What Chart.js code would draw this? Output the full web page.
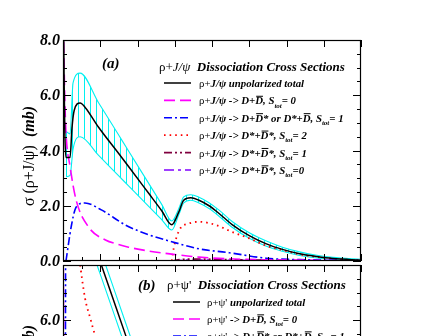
<!DOCTYPE html>
<html lang="en">
<head>
<meta charset="UTF-8" />
<title>Dissociation cross sections</title>
<script src="https://cdn.jsdelivr.net/npm/chart.js"></script>
<style>
  html, body { margin: 0; padding: 0; background: #fff; overflow: hidden; }
  .panel { position: absolute; left: 0; width: 425px; }
  #top { top: 0; height: 275px; }
  #bot { top: 263px; height: 240px; }
</style>
</head>
<body>
<div class="panel" id="top"><canvas id="chartA"></canvas></div>
<div class="panel" id="bot"><canvas id="chartB"></canvas></div>
<script>
// ---- panel (a): rho + J/psi ----
const totalX = [0.01, 0.03, 0.05, 0.08, 0.19, 0.24, 0.30, 0.46, 0.60, 0.95, 1.49, 1.76, 2.30, 2.65, 2.92, 3.11, 3.24, 3.43, 3.65, 3.92, 4.19, 4.54, 5.00, 5.46, 5.89, 6.35, 6.81, 7.24, 8.00];
const totalY = [9.5, 6.5, 4.6, 3.75, 3.75, 4.8, 5.45, 5.72, 5.55, 4.85, 3.9, 3.42, 2.45, 1.82, 1.31, 1.78, 2.2, 2.29, 2.2, 2.0, 1.72, 1.32, 0.92, 0.62, 0.42, 0.26, 0.16, 0.09, 0.03];
const bandX = [0.08, 0.19, 0.27, 0.46, 0.95, 1.49, 1.76, 2.30, 2.65, 2.92, 3.11, 3.24, 3.43, 3.65, 3.92, 4.19, 4.54, 5.00, 5.46, 5.89, 6.35, 6.81, 7.24, 8.00];
const bandHi = [4.7, 4.6, 6.45, 6.8, 5.74, 4.57, 3.98, 2.81, 2.05, 1.45, 1.9, 2.32, 2.4, 2.31, 2.11, 1.84, 1.43, 1.02, 0.72, 0.5, 0.33, 0.21, 0.13, 0.06];
const bandLo = [3.05, 3.1, 4.05, 4.5, 3.83, 3.09, 2.72, 1.98, 1.5, 1.12, 1.68, 2.1, 2.2, 2.1, 1.9, 1.62, 1.22, 0.82, 0.53, 0.35, 0.2, 0.11, 0.05, 0.01];
const ddX = [0.01, 0.05, 0.08, 0.19, 0.35, 0.68, 1.14, 1.49, 1.76, 2.30, 2.92, 3.65, 4.9, 6.5, 8.0];
const ddY = [8.5, 5.8, 4.65, 3.42, 2.22, 1.24, 0.76, 0.6, 0.5, 0.36, 0.25, 0.14, 0.06, 0.03, 0.01];
const ddsX = [0.08, 0.22, 0.32, 0.41, 0.59, 1.03, 1.68, 2.30, 2.92, 3.65, 4.46, 5.46, 6.35, 8.0];
const ddsY = [0, 1.24, 1.85, 2.04, 2.1, 1.85, 1.3, 0.95, 0.7, 0.44, 0.3, 0.1, 0.05, 0.02];
const s2X = [2.92, 2.97, 3.05, 3.16, 3.38, 3.65, 4.11, 4.54, 5.0, 5.46, 5.89, 6.35, 6.81, 7.24, 8.0];
const s2Y = [0, 0.45, 0.87, 1.2, 1.36, 1.42, 1.3, 1.05, 0.82, 0.55, 0.4, 0.24, 0.15, 0.08, 0.02];
const s1X = [2.92, 3.2, 3.65, 4.5, 5.5, 6.5, 8.0];
const s1Y = [0, 0.06, 0.07, 0.05, 0.03, 0.01, 0];
const s0X = [2.92, 3.2, 3.65, 4.5, 5.5, 6.5, 8.0];
const s0Y = [0, 0.03, 0.04, 0.03, 0.02, 0.01, 0];

// ---- panel (b): rho + psi' (only the top part is in view) ----
const psiTotX = [0.9, 1.03, 1.68, 2.0];
const psiTotY = [8.5, 8.0, 5.45, 4.2];
const psiHi = [8.95, 8.45, 5.9, 4.65];
const psiLo = [8.05, 7.55, 5.0, 3.75];
const psiRedX = [0.40, 0.46, 0.59, 0.73, 0.86, 1.0];
const psiRedY = [8.6, 8.0, 6.8, 6.07, 5.45, 4.9];
const psiBlueX = [0.065, 0.07];
const psiBlueY = [4.5, 9.0];
const psiDdX = [0.005, 0.02];
const psiDdY = [9.0, 4.5];

const yTicksA = [0, 2, 4, 6, 8];
const yTicksB = [0, 2, 4, 6];

const serif = '"Liberation Serif", "Times New Roman", serif';
const CYAN = "#00f0f0";

const pts = (xs, ys) => xs.map((x, i) => ({ x: x, y: ys[i] }));

function hatch() {
  const c = document.createElement("canvas");
  c.width = 6; c.height = 6;
  const g = c.getContext("2d");
  g.fillStyle = CYAN;
  g.fillRect(0, 0, 1, 6);
  return g.createPattern(c, "repeat");
}

function font(k, size) {
  if (k === "r") return size + "px " + serif;
  if (k === "i") return "italic " + size + "px " + serif;
  return "italic bold " + size + "px " + serif;
}

// segments: r regular, i italic, b bold italic, o overlined, s subscript
function drawRich(ctx, segs, x, y, size, measureOnly) {
  let cx = x;
  segs.forEach(([k, t]) => {
    const sub = k === "s";
    const sz = sub ? Math.round(size * 0.68) : size;
    ctx.font = font(k === "o" || sub ? "b" : k, sz);
    const w = ctx.measureText(t).width;
    if (!measureOnly) {
      ctx.fillText(t, cx, sub ? y + size * 0.3 : y);
      if (k === "o") ctx.fillRect(cx + 1, y - size * 0.8, w - 1, 1);
    }
    cx += w;
  });
  return cx - x;
}

const framePlugin = {
  id: "frame",
  afterDraw(chart, args, o) {
    const ctx = chart.ctx;
    const a = chart.chartArea;
    const xs = chart.scales.x, ys = chart.scales.y;
    ctx.save();
    ctx.strokeStyle = "#000";
    ctx.fillStyle = "#000";
    ctx.lineWidth = 1.2;
    ctx.strokeRect(a.left + 0.5, a.top + 0.5, a.right - a.left - 1, a.bottom - a.top - 1);

    ctx.lineWidth = 1;
    ctx.beginPath();
    for (let v = 0; v <= 8.001; v += 0.5) {
      const px = Math.round(xs.getPixelForValue(v)) + 0.5;
      const major = Math.abs(v - Math.round(v)) < 0.01;
      const len = major ? 7 : 4;
      if (major || o.topMinor) { ctx.moveTo(px, a.top); ctx.lineTo(px, a.top + len); }
      ctx.moveTo(px, a.bottom); ctx.lineTo(px, a.bottom - len);
    }
    for (let v = 0; v <= 8.001; v += 0.5) {
      const py = Math.round(ys.getPixelForValue(v)) + 0.5;
      const len = v % 2 === 0 ? 8 : 4;
      ctx.moveTo(a.left, py); ctx.lineTo(a.left + len, py);
      ctx.moveTo(a.right, py); ctx.lineTo(a.right - len, py);
    }
    ctx.stroke();

    // y tick labels
    ctx.font = font("b", 16);
    ctx.textAlign = "right";
    ctx.textBaseline = "middle";
    o.yTicks.forEach(v => ctx.fillText(v.toFixed(1), a.left - 3, ys.getPixelForValue(v) + 1));

    // y title (rotated)
    ctx.textAlign = "left";
    ctx.textBaseline = "alphabetic";
    const tw = drawRich(ctx, o.yTitle, 0, 0, 16, true);
    ctx.save();
    ctx.translate(o.yTitlePos[0], o.yTitlePos[1] + tw);
    ctx.rotate(-Math.PI / 2);
    drawRich(ctx, o.yTitle, 0, 0, 16);
    ctx.restore();

    // panel tag
    drawRich(ctx, [["b", o.tag[0]]], o.tag[1], o.tag[2], 15);

    // legend
    const L = o.legend;
    drawRich(ctx, L.title, L.titleX, L.titleY, 13);
    L.rows.forEach((r, i) => {
      const y = L.rowY + i * L.step;
      const ds = chart.data.datasets[r.ds];
      ctx.save();
      ctx.strokeStyle = ds.borderColor;
      ctx.lineWidth = ds.borderWidth;
      ctx.setLineDash(ds.borderDash || []);
      ctx.beginPath();
      ctx.moveTo(L.lineX, y); ctx.lineTo(L.lineX + 27, y);
      ctx.stroke();
      ctx.restore();
      drawRich(ctx, r.segs, L.textX, y + 4, 10.8);
    });
    ctx.restore();
  }
};

const line = (data, color, dash, width, order) => ({
  data: data, borderColor: color, borderDash: dash, borderWidth: width || 1.6,
  pointRadius: 0, fill: false, cubicInterpolationMode: "monotone", order: order || 1
});

function makeChart(id, datasets, padding, frame) {
  return new Chart(document.getElementById(id), {
    type: "line",
    data: { datasets: datasets },
    options: {
      responsive: true,
      maintainAspectRatio: false,
      animation: false,
      events: [],
      layout: { padding: padding },
      scales: {
        x: { type: "linear", min: 0, max: 8, display: false },
        y: { min: 0, max: 8, display: false }
      },
      plugins: { legend: { display: false }, tooltip: { enabled: false }, frame: frame }
    },
    plugins: [framePlugin]
  });
}

const rhoJ = [["r", "ρ+"], ["b", "J/ψ"]];
const rhoP = [["r", "ρ+ψ'"]];

makeChart("chartA", [
  line(pts(totalX, totalY), "#000", [], 1.5, 0),
  line(pts(ddX, ddY), "#ff00ff", [11, 5], 1.6, 1),
  line(pts(ddsX, ddsY), "#0000ff", [8, 3, 2, 3], 1.6, 1),
  line(pts(s2X, s2Y), "#ff0000", [1.6, 4], 1.8, 1),
  line(pts(s1X, s1Y), "#80003f", [8, 3, 2, 3, 2, 3], 1.6, 1),
  line(pts(s0X, s0Y), "#8000ff", [10, 4, 3, 4], 1.4, 1),
  Object.assign(line(pts(bandX, bandHi), CYAN, [], 1.1, 5), { fill: "+1", backgroundColor: hatch() }),
  line(pts(bandX, bandLo), CYAN, [], 1.1, 5)
], { left: 63, right: 64, top: 40, bottom: 14 }, {
  yTicks: yTicksA,
  topMinor: false,
  yTitle: [["r", "σ (ρ+J/ψ)  "], ["b", "(mb)"]],
  yTitlePos: [34, 106],
  tag: ["(a)", 102, 68],
  legend: {
    title: [["r", "ρ+"], ["i", "J/ψ"], ["b", "  Dissociation Cross Sections"]],
    titleX: 159, titleY: 71,
    lineX: 164, textX: 199, rowY: 83, step: 17.4,
    rows: [
      { ds: 0, segs: rhoJ.concat([["b", " unpolarized total"]]) },
      { ds: 1, segs: rhoJ.concat([["b", " -> D+"], ["o", "D"], ["b", ", S"], ["s", "tot"], ["b", "= 0"]]) },
      { ds: 2, segs: rhoJ.concat([["b", " -> D+"], ["o", "D"], ["b", "* or D*+"], ["o", "D"], ["b", ", S"], ["s", "tot"], ["b", "= 1"]]) },
      { ds: 3, segs: rhoJ.concat([["b", " -> D*+"], ["o", "D"], ["b", "*, S"], ["s", "tot"], ["b", "= 2"]]) },
      { ds: 4, segs: rhoJ.concat([["b", " -> D*+"], ["o", "D"], ["b", "*, S"], ["s", "tot"], ["b", "= 1"]]) },
      { ds: 5, segs: rhoJ.concat([["b", " -> D*+"], ["o", "D"], ["b", "*, S"], ["s", "tot"], ["b", "=0"]]) }
    ]
  }
});

makeChart("chartB", [
  line(pts(psiTotX, psiTotY), "#000", [], 1.5, 0),
  line(pts(psiDdX, psiDdY), "#ff00ff", [11, 5], 1.6, 1),
  line(pts(psiBlueX, psiBlueY), "#0000ff", [8, 3, 2, 3], 1.6, 1),
  line(pts(psiRedX, psiRedY), "#ff0000", [1.6, 4], 1.8, 1),
  line(pts(psiTotX, psiHi), CYAN, [], 1.1, 5),
  line(pts(psiTotX, psiLo), CYAN, [], 1.1, 5)
], { left: 63, right: 64, top: 2, bottom: 18 }, {
  yTicks: yTicksB,
  topMinor: true,
  yTitle: [["r", "σ (ρ+ψ')  "], ["b", "(mb)"]],
  yTitlePos: [34, 62],
  tag: ["(b)", 138, 27],
  legend: {
    title: [["r", "ρ+ψ'"], ["b", "  Dissociation Cross Sections"]],
    titleX: 167, titleY: 26,
    lineX: 173, textX: 207, rowY: 39, step: 17,
    rows: [
      { ds: 0, segs: rhoP.concat([["b", " unpolarized total"]]) },
      { ds: 1, segs: rhoP.concat([["b", " -> D+"], ["o", "D"], ["b", ", S"], ["s", "tot"], ["b", "= 0"]]) },
      { ds: 2, segs: rhoP.concat([["b", " -> D+"], ["o", "D"], ["b", "* or D*+"], ["o", "D"], ["b", ", S"], ["s", "tot"], ["b", "= 1"]]) }
    ]
  }
});
</script>
</body>
</html>
